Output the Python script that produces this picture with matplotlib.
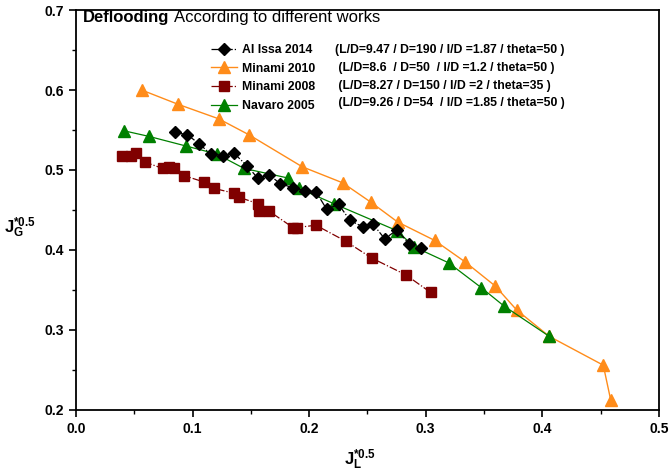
import matplotlib
matplotlib.use("Agg")
import matplotlib.pyplot as plt
from matplotlib.ticker import MultipleLocator

plt.rcParams['font.family'] = ['Liberation Sans', 'DejaVu Sans']
plt.rcParams['mathtext.fontset'] = 'custom'
plt.rcParams['mathtext.rm'] = 'Liberation Sans'
plt.rcParams['mathtext.bf'] = 'Liberation Sans:bold'

# Al Issa 2014
AlIssaX = [0.0852, 0.0955, 0.1055, 0.1155, 0.1258, 0.1355, 0.1469, 0.1558, 0.1658, 0.1750,
           0.1858, 0.1964, 0.2058, 0.2150, 0.2253, 0.2350, 0.2459, 0.2550, 0.2648, 0.2753,
           0.2856, 0.2956]
AlIssaY = [0.547, 0.544, 0.533, 0.520, 0.518, 0.521, 0.505, 0.490, 0.494, 0.483,
           0.478, 0.474, 0.473, 0.451, 0.457, 0.437, 0.429, 0.432, 0.414, 0.425,
           0.408, 0.402]

# Minami 2010
Minami2010X = [0.0563, 0.0878, 0.1224, 0.1484, 0.1941, 0.2287, 0.2527, 0.2759, 0.3076, 0.3339,
               0.3596, 0.3780, 0.4060, 0.4523, 0.4586]
Minami2010Y = [0.600, 0.582, 0.564, 0.544, 0.504, 0.484, 0.460, 0.435, 0.412, 0.385,
               0.355, 0.325, 0.292, 0.256, 0.213]

# Minami 2008
Minami2008X = [0.0395, 0.0469, 0.0512, 0.0589, 0.0743, 0.0798, 0.0843, 0.0926, 0.1098, 0.1184,
               0.1355, 0.1398, 0.1558, 0.1567, 0.1652, 0.1862, 0.1895, 0.2058, 0.2313, 0.2536,
               0.2828, 0.3042]
Minami2008Y = [0.517, 0.517, 0.521, 0.510, 0.502, 0.504, 0.502, 0.493, 0.485, 0.477,
               0.471, 0.466, 0.458, 0.449, 0.449, 0.428, 0.428, 0.431, 0.411, 0.390,
               0.369, 0.347]

# Navaro 2005
NavaroX = [0.0412, 0.0626, 0.0943, 0.1207, 0.1441, 0.1818, 0.1911, 0.2210, 0.2755, 0.2899,
           0.3196, 0.3476, 0.3671, 0.4060]
NavaroY = [0.549, 0.542, 0.530, 0.520, 0.502, 0.490, 0.477, 0.458, 0.424, 0.404,
           0.384, 0.353, 0.330, 0.292]

Labels = ["Al Issa 2014", "Minami 2010", "Minami 2008", "Navaro 2005"]
Params = ["(L/D=9.47 / D=190 / I/D =1.87 / theta=50 )",
          " (L/D=8.6  / D=50  / I/D =1.2 / theta=50 )",
          " (L/D=8.27 / D=150 / I/D =2 / theta=35 )",
          " (L/D=9.26 / D=54  / I/D =1.85 / theta=50 )"]

fig = plt.figure(figsize=(6.7, 4.72), dpi=100)
ax = fig.add_axes([0.1134, 0.1314, 0.870, 0.8474])

ax.plot(AlIssaX, AlIssaY, color='black', linestyle='-.', linewidth=0.9,
        marker='D', markersize=6.5, markerfacecolor='black', markeredgecolor='black', label=Labels[0], zorder=4)
ax.plot(Minami2010X, Minami2010Y, color='#FF8C1A', linestyle='-', linewidth=1.0,
        marker='^', markersize=8.5, markerfacecolor='#FF8C1A', markeredgecolor='#FF8C1A', label=Labels[1], zorder=3)
ax.plot(Minami2008X, Minami2008Y, color='#800000', linestyle='-.', linewidth=0.9,
        marker='s', markersize=6.5, markerfacecolor='#800000', markeredgecolor='#800000', label=Labels[2], zorder=3)
ax.plot(NavaroX, NavaroY, color='#008000', linestyle='-', linewidth=0.9,
        marker='^', markersize=8, markerfacecolor='#008000', markeredgecolor='#008000', label=Labels[3], zorder=3)

ax.set_xlim(0, 0.5)
ax.set_ylim(0.2, 0.7)
ax.xaxis.set_major_locator(MultipleLocator(0.1))
ax.xaxis.set_minor_locator(MultipleLocator(0.05))
ax.yaxis.set_major_locator(MultipleLocator(0.1))
ax.yaxis.set_minor_locator(MultipleLocator(0.05))
ax.tick_params(which='major', direction='out', length=5, width=1.2, labelsize=10)
ax.tick_params(which='minor', direction='out', length=3, width=1.0)
for lab in ax.get_xticklabels() + ax.get_yticklabels():
    lab.set_fontweight('bold')
for sp in ax.spines.values():
    sp.set_linewidth(1.3)

ax.set_xlabel(r'$\mathbf{J^{*0.5}_{L}}$', fontsize=12)
ax.xaxis.set_label_coords(0.487, -0.095)
ax.xaxis.label.set_va('top')
ax.set_ylabel(r'$\mathbf{J^{*0.5}_{G}}$', fontsize=12, rotation=0)
ax.yaxis.label.set_va('center')
ax.yaxis.label.set_ha('left')
ax.yaxis.set_label_coords(-0.124, 0.455)

# title: bold word followed by normal text
t1 = ax.text(0.012, 0.982, "Deflooding", transform=ax.transAxes, fontsize=12, fontweight='bold',
             va='center', ha='left')
fig.canvas.draw()
bb = t1.get_window_extent().transformed(ax.transAxes.inverted())
ax.text(bb.x1 + 0.008, 0.982, "According to different works", transform=ax.transAxes, fontsize=12,
        va='center', ha='left')

leg = ax.legend(loc='upper left', bbox_to_anchor=(0.232, 0.915), frameon=False, borderpad=0,
                borderaxespad=0, handlelength=2.1, handletextpad=0.4, labelspacing=0.55,
                prop={'weight': 'bold', 'size': 8.8})

for i, p in enumerate(Params):
    fig.text(0.500, 1 - (50 + i * 17.8) / 472, p, fontsize=8.8, fontweight='bold', va='center', ha='left')

fig.savefig("out.png", dpi=100)
